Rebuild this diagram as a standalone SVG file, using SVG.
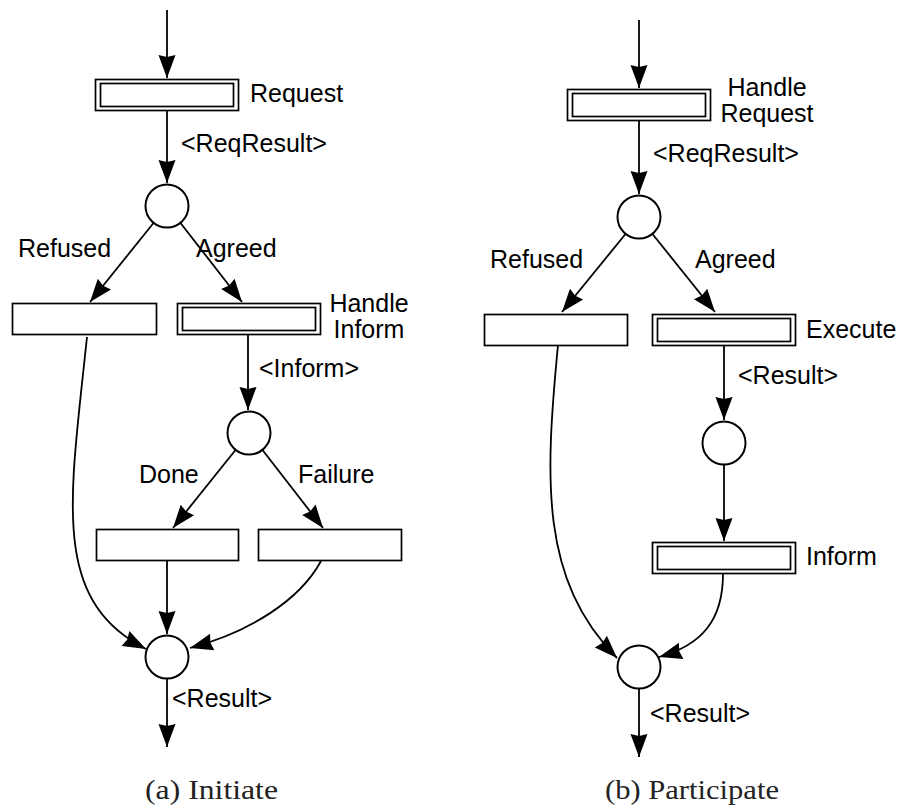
<svg xmlns="http://www.w3.org/2000/svg" width="899" height="806" viewBox="0 0 899 806">
<style>
  .box { fill: #fff; stroke: #000; stroke-width: 1.7; }
  .place { fill: #fff; stroke: #000; stroke-width: 2; }
  .arc { fill: none; stroke: #000; stroke-width: 1.8; marker-end: url(#ah); }
  .lbl { font-family: "Liberation Sans", Arial, sans-serif; font-size: 25px; fill: #000; }
  .mid { text-anchor: middle; }
  .cap { font-family: "Liberation Serif", "Times New Roman", serif; font-size: 28px; fill: #222; }
</style>
<defs>
  <marker id="ah" markerUnits="userSpaceOnUse" markerWidth="26" markerHeight="20" viewBox="-24 -10 26 20" refX="0" refY="0" orient="auto">
    <path d="M0,0 L-23,-8.5 L-21,0 L-23,8.5 Z" fill="#000"/>
  </marker>
</defs>
<rect width="899" height="806" fill="#fff"/>

<g id="connectors">
  <!-- left diagram -->
  <path class="arc" d="M167,10 L167,78"/>
  <path class="arc" d="M167,110 L167,183"/>
  <path class="arc" d="M153.5,223 L90,302"/>
  <path class="arc" d="M180.5,223 L242,302"/>
  <path class="arc" d="M248,335 L248,410"/>
  <path class="arc" d="M235.5,450 L173,528"/>
  <path class="arc" d="M262.5,450 L323,528"/>
  <path class="arc" d="M167,561 L167,634"/>
  <path class="arc" d="M87,337 C70,500 50,600 146,649"/>
  <path class="arc" d="M321,561 C300,600 250,632 190,648"/>
  <path class="arc" d="M167,679 L167,747"/>
  <!-- right diagram -->
  <path class="arc" d="M639,20 L639,88"/>
  <path class="arc" d="M639,121 L639,194"/>
  <path class="arc" d="M625.5,234 L562,312"/>
  <path class="arc" d="M652.5,234 L715,312"/>
  <path class="arc" d="M724,345 L724,420"/>
  <path class="arc" d="M724,465 L724,541"/>
  <path class="arc" d="M558,345 C545,480 540,580 617,658"/>
  <path class="arc" d="M723,574 C723,620 702,645 659,657"/>
  <path class="arc" d="M639,689 L639,757"/>
</g>

<!-- Left: Initiate -->
<g id="request">
  <rect class="box" x="95.5" y="79.5" width="143" height="31"/>
  <rect class="box" x="100.5" y="83.5" width="133" height="23"/>
  <text class="lbl" x="250" y="102">Request</text>
</g>
<text class="lbl" x="181" y="152">&lt;ReqResult&gt;</text>
<g id="p1">
  <circle class="place" cx="167" cy="206" r="21.5"/>
</g>
<text class="lbl" x="18" y="257">Refused</text>
<text class="lbl" x="196" y="257">Agreed</text>
<g id="refused-a">
  <rect class="box" x="12.5" y="303.5" width="144" height="31"/>
</g>
<g id="handle-inform">
  <rect class="box" x="177.5" y="303.5" width="143" height="31"/>
  <rect class="box" x="182.5" y="307.5" width="133" height="23"/>
  <text class="lbl mid" x="369" y="312">Handle</text>
  <text class="lbl mid" x="369" y="338">Inform</text>
</g>
<text class="lbl" x="259" y="377">&lt;Inform&gt;</text>
<g id="p2">
  <circle class="place" cx="249" cy="433" r="21.5"/>
</g>
<text class="lbl" x="139" y="483">Done</text>
<text class="lbl" x="298" y="483">Failure</text>
<g id="done">
  <rect class="box" x="96.5" y="529.5" width="142" height="31"/>
</g>
<g id="failure">
  <rect class="box" x="258.5" y="529.5" width="143" height="31"/>
</g>
<g id="p3">
  <circle class="place" cx="167" cy="657" r="21.5"/>
</g>
<text class="lbl" x="172" y="707">&lt;Result&gt;</text>
<text class="cap" x="145" y="799" textLength="133" lengthAdjust="spacingAndGlyphs">(a) Initiate</text>

<!-- Right: Participate -->
<g id="handle-request">
  <rect class="box" x="567.5" y="89.5" width="143" height="31"/>
  <rect class="box" x="572.5" y="93.5" width="133" height="23"/>
  <text class="lbl mid" x="767" y="96">Handle</text>
  <text class="lbl mid" x="767" y="122">Request</text>
</g>
<text class="lbl" x="653" y="162">&lt;ReqResult&gt;</text>
<g id="q1">
  <circle class="place" cx="639" cy="217" r="21.5"/>
</g>
<text class="lbl" x="490" y="268">Refused</text>
<text class="lbl" x="695" y="268">Agreed</text>
<g id="refused-b">
  <rect class="box" x="484.5" y="314.5" width="143" height="31"/>
</g>
<g id="execute">
  <rect class="box" x="652.5" y="314.5" width="143" height="31"/>
  <rect class="box" x="657.5" y="318.5" width="133" height="23"/>
  <text class="lbl" x="806" y="338">Execute</text>
</g>
<text class="lbl" x="738" y="384">&lt;Result&gt;</text>
<g id="q2">
  <circle class="place" cx="724" cy="443" r="21.5"/>
</g>
<g id="inform">
  <rect class="box" x="652.5" y="542.5" width="143" height="31"/>
  <rect class="box" x="657.5" y="546.5" width="133" height="23"/>
  <text class="lbl" x="806" y="565">Inform</text>
</g>
<g id="q3">
  <circle class="place" cx="639" cy="667" r="21.5"/>
</g>
<text class="lbl" x="650" y="722">&lt;Result&gt;</text>
<text class="cap" x="605" y="799" textLength="174" lengthAdjust="spacingAndGlyphs">(b) Participate</text>
</svg>
